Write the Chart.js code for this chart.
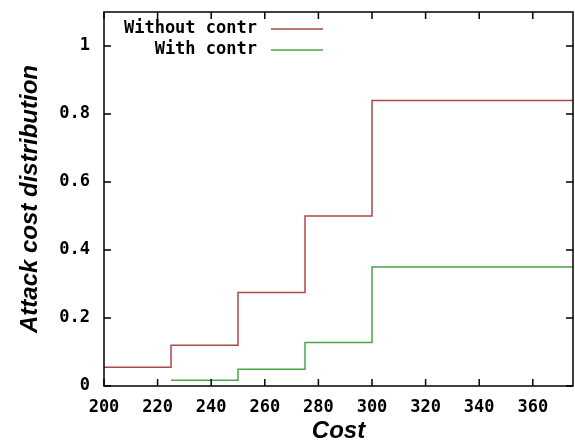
<!DOCTYPE html>
<html>
<head>
<meta charset="utf-8">
<script src="https://cdn.jsdelivr.net/npm/chart.js@4.4.1/dist/chart.umd.min.js"></script>
<style>
  html, body { margin: 0; padding: 0; background: #ffffff; }
  #wrap { width: 575px; height: 442px; position: relative; }
</style>
</head>
<body>
<div id="wrap"><canvas id="c" width="575" height="442"></canvas></div>
<script>
// Data (step functions: value changes at each cost)
const costWithout = [200, 225, 250, 275, 300, 375];
const withoutContr = [0.055, 0.12, 0.275, 0.5, 0.84, 0.84];
const costWith = [225, 250, 275, 300, 375];
const withContr = [0.017, 0.049, 0.128, 0.35, 0.35];
const xTickValues = [200, 220, 240, 260, 280, 300, 320, 340, 360];
const yTickValues = [0, 0.2, 0.4, 0.6, 0.8, 1];
const seriesLabels = ['Without contr', 'With contr'];
const xTitle = 'Cost';
const yTitle = 'Attack cost distribution';

const toPoints = (xs, ys) => xs.map((x, i) => ({ x: x, y: ys[i] }));

const monoFont = { family: '"DejaVu Sans Mono", monospace', size: 17, weight: 'bold' };

const framePlugin = {
  id: 'frame',
  afterDatasetsDraw(chart) {
    const { ctx, chartArea: a, scales } = chart;
    ctx.save();
    ctx.strokeStyle = '#000';
    ctx.lineWidth = 1.5;
    ctx.strokeRect(a.left, a.top, a.right - a.left, a.bottom - a.top);
    const tl = 7;
    ctx.beginPath();
    scales.x.ticks.forEach(t => {
      const px = scales.x.getPixelForValue(t.value);
      ctx.moveTo(px, a.bottom); ctx.lineTo(px, a.bottom - tl);
      ctx.moveTo(px, a.top); ctx.lineTo(px, a.top + tl);
    });
    scales.y.ticks.forEach(t => {
      const py = scales.y.getPixelForValue(t.value);
      ctx.moveTo(a.left, py); ctx.lineTo(a.left + tl, py);
      ctx.moveTo(a.right, py); ctx.lineTo(a.right - tl, py);
    });
    ctx.stroke();

    // key (legend) inside top-left, gnuplot style
    ctx.font = 'bold 17px "DejaVu Sans Mono", monospace';
    ctx.textAlign = 'right';
    ctx.textBaseline = 'middle';
    const textRight = a.left + 153;
    const lineX0 = a.left + 167, lineX1 = a.left + 219;
    chart.data.datasets.forEach((ds, i) => {
      const y = a.top + 17 + i * 21;
      ctx.fillStyle = '#000';
      ctx.fillText(ds.label, textRight, y);
      ctx.strokeStyle = ds.borderColor;
      ctx.lineWidth = 1.5;
      ctx.beginPath();
      ctx.moveTo(lineX0, y); ctx.lineTo(lineX1, y);
      ctx.stroke();
    });
    ctx.restore();
  }
};

new Chart(document.getElementById('c'), {
  type: 'line',
  data: {
    datasets: [
      {
        label: seriesLabels[0],
        data: toPoints(costWithout, withoutContr),
        borderColor: '#a84848',
        borderWidth: 1.5,
        stepped: 'before',
        pointRadius: 0,
        fill: false
      },
      {
        label: seriesLabels[1],
        data: toPoints(costWith, withContr),
        borderColor: '#48a848',
        borderWidth: 1.5,
        stepped: 'before',
        pointRadius: 0,
        fill: false
      }
    ]
  },
  options: {
    responsive: false,
    animation: false,
    devicePixelRatio: 1,
    layout: { padding: { top: 12, right: 2, left: 0, bottom: 0 } },
    plugins: { legend: { display: false }, tooltip: { enabled: false } },
    scales: {
      x: {
        type: 'linear',
        min: 200,
        max: 375,
        grid: { display: false, drawTicks: false },
        border: { display: false },
        afterBuildTicks(scale) { scale.ticks = xTickValues.map(v => ({ value: v })); },
        afterFit(scale) { scale.height = 56; scale.paddingLeft = 0; scale.paddingRight = 0; },
        ticks: {
          color: '#000',
          font: monoFont,
          padding: 11,
          maxRotation: 0,
          autoSkip: false,
          callback: v => String(v)
        },
        title: {
          display: true,
          text: xTitle,
          color: '#000',
          font: { family: '"Liberation Sans", Arial, sans-serif', size: 24, style: 'italic', weight: 'bold' },
          padding: { top: 0, bottom: -4 }
        }
      },
      y: {
        type: 'linear',
        min: 0,
        max: 1.1,
        grid: { display: false, drawTicks: false },
        border: { display: false },
        afterBuildTicks(scale) { scale.ticks = yTickValues.map(v => ({ value: v })); },
        afterFit(scale) { scale.width = 104; scale.paddingTop = 0; scale.paddingBottom = 0; },
        ticks: {
          color: '#000',
          font: monoFont,
          padding: 14,
          autoSkip: false,
          callback: v => String(v)
        },
        title: {
          display: true,
          text: yTitle,
          color: '#000',
          font: { family: '"Liberation Sans", Arial, sans-serif', size: 24, style: 'italic', weight: 'bold' },
          padding: { top: 16, bottom: 0 }
        }
      }
    }
  },
  plugins: [framePlugin]
});
</script>
</body>
</html>
